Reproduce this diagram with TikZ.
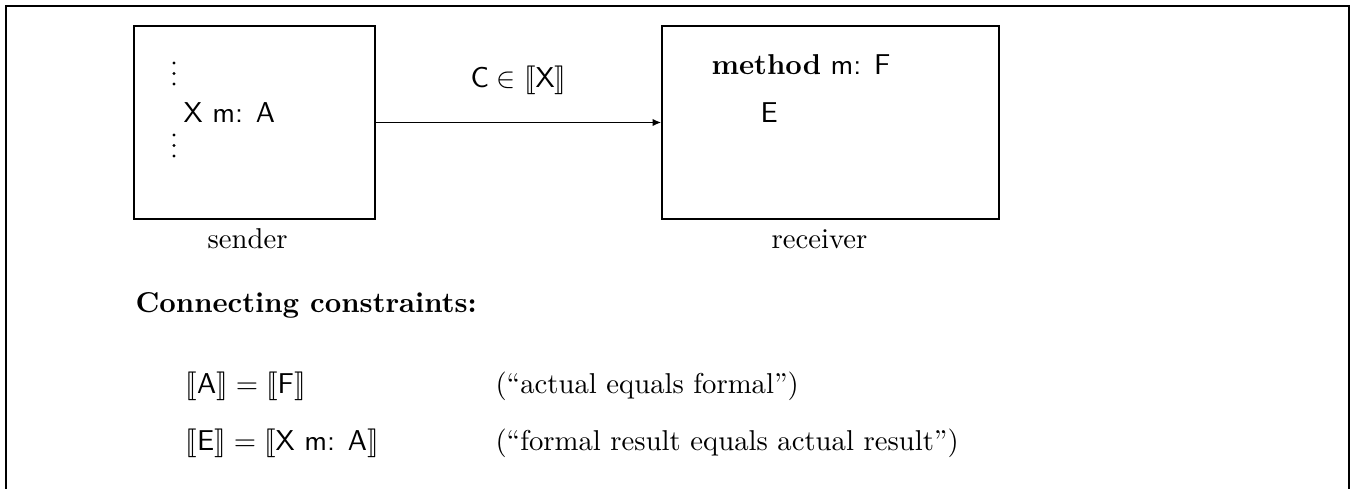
\documentclass[tikz,border=0pt]{standalone}
\usepackage{stmaryrd}
\usetikzlibrary{arrows.meta}
\tikzset{
  box/.style={draw, line width=0.6pt, inner sep=0pt, minimum width=#1},
  lbl/.style={inner sep=0pt, anchor=base west},
  conn/.style={line width=0.45pt, -{Latex[length=3pt,width=2.6pt]}},
  frame/.style={line width=0.8pt},
  dotmark/.style={circle, fill, inner sep=0pt, minimum size=1.1pt}
}
\begin{document}
\begin{tikzpicture}[x=0.3484pt, y=-0.3484pt]
\useasboundingbox (0,0) rectangle (1354,489);
% outer frame (open at the bottom)
\draw[frame] (6,489) -- (6,5.7) -- (1349,5.7) -- (1349,489);
% boxes
\node[box=83.96pt, minimum height=67.2pt] (s) at (254.5,122.5) {};
\node[box=117.4pt, minimum height=67.2pt] (r) at (830.5,122.5) {};
% sender contents: vertical dots
\foreach \y [count=\i] in {63,73.5,84,135,145.5,156}
  \node[dotmark] (dot\i) at (174,\y) {};
\node[lbl] (xm) at (183,123) {\textsf{X m: A}};
% receiver contents
\node[lbl] (meth) at (711,75) {\textbf{method} \textsf{m: F}};
\node[lbl] (e) at (760,123) {\textsf{E}};
% arrow
\draw[conn] (s.east) -- (r.west)
  node[midway, anchor=base, inner sep=0pt, yshift=12.2pt] (c) {$\mathsf{C}\in\llbracket\mathsf{X}\rrbracket$};
% captions
\node[lbl] (sl) at (207,249) {sender};
\node[lbl] (rl) at (771,249) {receiver};
% constraints
\node[lbl] (cc) at (135,313) {\textbf{Connecting constraints:}};
\node[lbl] (e1) at (185,394) {$\llbracket\mathsf{A}\rrbracket=\llbracket\mathsf{F}\rrbracket$};
\node[lbl] (t1) at (495,394) {(``actual equals formal'')};
\node[lbl] (e2) at (185,451) {$\llbracket\mathsf{E}\rrbracket=\llbracket\textsf{X m: A}\rrbracket$};
\node[lbl] (t2) at (495,451) {(``formal result equals actual result'')};
\end{tikzpicture}
\end{document}
